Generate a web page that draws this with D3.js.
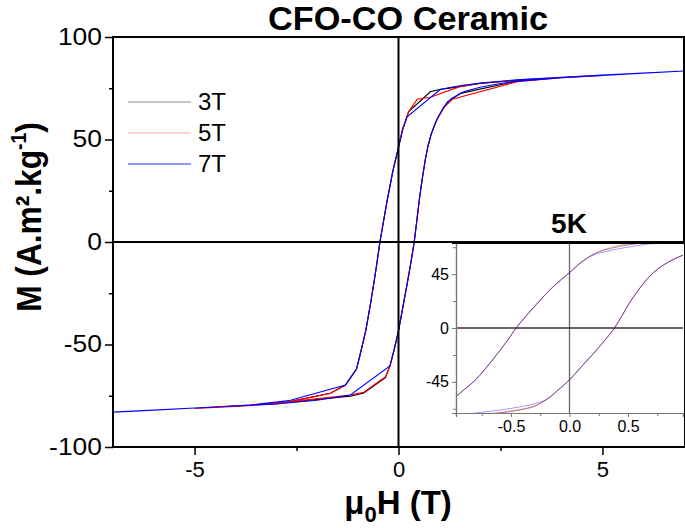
<!DOCTYPE html>
<html><head><meta charset="utf-8">
<script src="https://cdn.jsdelivr.net/npm/d3@7"></script>
<style>body{margin:0;background:#fff}svg{display:block}text{font-family:"Liberation Sans",Arial,sans-serif}</style>
</head><body>
<svg id="c" width="685" height="528"></svg>
<script>
// ---- data ----
const seriesNames = ["3T", "5T", "7T"];
const seriesColors = ["#000000", "#ff0000", "#0000ff"];
const legendColors = ["#8a8a8a", "#ffa8a8", "#2a2aff"];

// 3T loop: descending branch then ascending branch
const h3 = [3, 2.5, 2, 1.5, 0.98, 0.78, 0.25, 0.1, 0, -0.14, -0.285, -0.456, -0.527, -0.6, -0.68, -0.8, -0.9, -0.97, -1.03, -1.3, -1.67, -2.69, -3,
            -3, -2.69, -1.18, -0.85, -0.32, -0.21, -0.1, 0, 0.1, 0.2, 0.3, 0.385, 0.45, 0.51, 0.58, 0.655, 0.72, 0.8, 0.9, 0.97, 1.2, 1.52, 2.66, 3];
const m3 = [79.0, 78.2, 77.3, 75.8, 74.3, 73.3, 63.6, 55.0, 46.3, 34.5, 19.5, 0, -10, -19.5, -29.4, -43, -51.5, -57.2, -62, -69.8, -73.8, -78, -78.8,
            -78.8, -78.2, -75.2, -73.6, -66.2, -60.5, -52, -43.3, -32.5, -21.8, -10.5, 0, 10.5, 20.6, 30.5, 40, 46.5, 52.5, 57.8, 60.8, 68.3, 72.5, 77.4, 79.0];

// 5T loop
const h5 = [5, 4, 3, 2, 1.5, 0.78, 0.46, 0.25, 0.1, 0, -0.14, -0.285, -0.456, -0.527, -0.6, -0.68, -0.8, -0.9, -0.97, -1.03, -1.3, -1.67, -2.69, -3.63, -4.3, -5,
            -5, -4, -3, -2.69, -1.18, -0.85, -0.32, -0.21, -0.1, 0, 0.1, 0.2, 0.3, 0.385, 0.45, 0.51, 0.58, 0.655, 0.72, 0.8, 0.9, 0.97, 1.11, 1.32, 2.91, 4, 5];
const m5 = [81.3, 80.2, 79.1, 77.4, 75.8, 70.6, 69.6, 63.6, 55.0, 46.3, 34.5, 19.5, 0, -10, -19.5, -29.4, -43, -51.5, -57.2, -62, -69.8, -73.8, -78, -79.5, -80.3, -81.2,
            -81.2, -80.2, -79.0, -78.0, -74.6, -73.3, -65.7, -60.5, -52, -43.3, -32.5, -21.8, -10.5, 0, 10.5, 20.6, 30.5, 40, 46.5, 52.5, 57.8, 60.8, 65.5, 69.6, 78.2, 80.2, 81.3];

// 7T loop
const h7 = [7, 6, 5, 4, 3, 2.5, 2, 1.5, 1.03, 0.21, 0.1, 0, -0.14, -0.285, -0.456, -0.527, -0.6, -0.68, -0.8, -0.9, -0.97, -1.03, -1.3, -2.69, -3.63, -5, -6, -7,
            -7, -6, -5, -4, -3, -2, -1.18, -0.21, -0.1, 0, 0.1, 0.2, 0.3, 0.385, 0.45, 0.51, 0.58, 0.655, 0.72, 0.8, 0.9, 0.97, 1.11, 1.3, 1.6, 2, 2.5, 3, 3.48, 4, 5, 6, 7];
const m7 = [83.4, 82.4, 81.4, 80.3, 79.2, 78.4, 77.5, 76.2, 74.5, 61.1, 54.5, 46.0, 34.5, 19.5, 0, -10, -19.5, -29.4, -43, -51.5, -57.2, -62, -69.8, -77.4, -79.5, -81.0, -82.0, -83.0,
            -83.0, -82.0, -81.0, -80.0, -79.0, -77.2, -74.6, -60.5, -52, -43.3, -32.5, -21.8, -10.5, 0, 10.5, 20.6, 30.5, 40, 46.5, 52.5, 57.8, 60.8, 66, 70, 73.3, 75.5, 77.3, 78.6, 79.3, 80.2, 81.3, 82.4, 83.4];

const fields = [h3, h5, h7];
const moments = [m3, m5, m7];

const xMajorTicks = [-5, 0, 5];
const xMinorTicks = [-2.5, 2.5];
const yMajorTicks = [-100, -50, 0, 50, 100];
const yMinorTicks = [-75, -25, 25, 75];
const insetXMajor = [-0.5, 0, 0.5];
const insetXMinor = [-0.75, -0.25, 0.25, 0.75];
const insetYMajor = [-45, 0, 45];
const insetYMinor = [-67.5, -22.5, 22.5, 67.5];

// ---- drawing ----
const svg = d3.select("#c");
const x = d3.scaleLinear([-7, 7], [113, 684]);
const y = d3.scaleLinear([-100, 100], [447, 37]);
const hy = d => String(d);                 // hyphen-minus labels
const hy1 = d => d.toFixed(1);

const loops = seriesNames.map((n, i) => ({name: n, color: seriesColors[i], pts: fields[i].map((h, j) => [h, moments[i][j]])}));

// main curves
const line = d3.line().x(d => x(d[0])).y(d => y(d[1]));
svg.append("g").selectAll("path").data(loops).join("path")
  .attr("d", d => line(d.pts)).attr("fill", "none").attr("stroke", d => d.color).attr("stroke-width", 1.1);

// zero lines
svg.append("line").attr("x1", x(0)).attr("x2", x(0)).attr("y1", y(100)).attr("y2", y(-100)).attr("stroke", "#000").attr("stroke-width", 2);
svg.append("line").attr("x1", x(-7)).attr("x2", x(7)).attr("y1", y(0)).attr("y2", y(0)).attr("stroke", "#000").attr("stroke-width", 2);

// frame
svg.append("rect").attr("x", x(-7)).attr("y", y(100)).attr("width", x(7) - x(-7)).attr("height", y(-100) - y(100))
  .attr("fill", "none").attr("stroke", "#000").attr("stroke-width", 2);

// main axes
const yAx = svg.append("g").attr("transform", `translate(${x(-7)},0)`)
  .call(d3.axisLeft(y).tickValues(yMajorTicks).tickSize(8).tickPadding(3).tickFormat(hy));
svg.append("g").attr("transform", `translate(${x(-7)},0)`)
  .call(d3.axisLeft(y).tickValues(yMinorTicks).tickSize(4).tickFormat(""));
const xAx = svg.append("g").attr("transform", `translate(0,${y(-100)})`)
  .call(d3.axisBottom(x).tickValues(xMajorTicks).tickSize(8).tickPadding(6).tickFormat(hy));
svg.append("g").attr("transform", `translate(0,${y(-100)})`)
  .call(d3.axisBottom(x).tickValues(xMinorTicks).tickSize(4).tickFormat(""));
svg.selectAll(".domain").remove();
svg.selectAll(".tick line").attr("stroke", "#000").attr("stroke-width", 1.5);
yAx.selectAll("text").attr("font-size", 23).attr("fill", "#000")
  .attr("x", -11 / 1.15).attr("transform", "scale(1.15,1)");
xAx.selectAll("text").attr("font-size", 22).attr("fill", "#000");

// title & labels
svg.append("text").attr("x", 408).attr("y", 30).attr("text-anchor", "middle")
  .attr("font-size", 33).attr("font-weight", "bold")
  .attr("textLength", 280).attr("lengthAdjust", "spacingAndGlyphs").text("CFO-CO Ceramic");
const xl = svg.append("text").attr("x", 398).attr("y", 514).attr("text-anchor", "middle")
  .attr("font-size", 33).attr("font-weight", "bold");
xl.append("tspan").text("μ");
xl.append("tspan").attr("font-size", 22).attr("dy", 8).text("0");
xl.append("tspan").attr("dy", -8).text("H (T)");
const yl = svg.append("text").attr("transform", "translate(41,217) rotate(-90) scale(0.88,1)").attr("text-anchor", "middle")
  .attr("font-size", 36).attr("font-weight", "bold");
yl.append("tspan").text("M (A.m².kg");
yl.append("tspan").attr("font-size", 22).attr("dy", -15).text("-1");
yl.append("tspan").attr("dy", 15).text(")");

// legend
const lg = svg.append("g");
seriesNames.forEach((n, i) => {
  const yy = 102 + i * 31;
  lg.append("line").attr("x1", 128).attr("x2", 191).attr("y1", yy).attr("y2", yy).attr("stroke", legendColors[i]).attr("stroke-width", 1.2);
  lg.append("text").attr("x", 198).attr("y", yy + 8).attr("font-size", 24).text(n);
});

// ---- inset ----
const xi = d3.scaleLinear([-0.97, 0.97], [456, 683]);
const yi = d3.scaleLinear([-71, 71], [413, 243]);
svg.append("rect").attr("x", 420).attr("y", 243).attr("width", 264).attr("height", 203).attr("fill", "#fff");
svg.append("clipPath").attr("id", "ic").append("rect").attr("x", xi(-0.97)).attr("y", yi(71)).attr("width", xi(0.97) - xi(-0.97)).attr("height", yi(-71) - yi(71));
const ig = svg.append("g");
ig.append("line").attr("x1", xi(0)).attr("x2", xi(0)).attr("y1", yi(71)).attr("y2", yi(-71)).attr("stroke", "#666").attr("stroke-width", 1.3);
ig.append("line").attr("x1", xi(-0.97)).attr("x2", xi(0.97)).attr("y1", yi(0)).attr("y2", yi(0)).attr("stroke", "#333").attr("stroke-width", 1.3);
const iline = d3.line().x(d => xi(d[0])).y(d => yi(d[1])).curve(d3.curveCatmullRom.alpha(0.5));
ig.append("g").attr("clip-path", "url(#ic)").selectAll("path").data(loops).join("path")
  .attr("d", d => iline(d.pts)).attr("fill", "none").attr("stroke", d => d.color).attr("stroke-width", 0.7).attr("stroke-opacity", 0.55);
// inset axes
const iyAx = ig.append("g").attr("transform", `translate(${xi(-0.97)},0)`)
  .call(d3.axisLeft(yi).tickValues(insetYMajor).tickSize(4).tickPadding(3).tickFormat(hy));
ig.append("g").attr("transform", `translate(${xi(-0.97)},0)`)
  .call(d3.axisLeft(yi).tickValues(insetYMinor).tickSize(3).tickFormat(""));
const ixAx = ig.append("g").attr("transform", `translate(0,${yi(-71)})`)
  .call(d3.axisBottom(xi).tickValues(insetXMajor).tickSize(4).tickPadding(4).tickFormat(hy1));
ig.append("g").attr("transform", `translate(0,${yi(-71)})`)
  .call(d3.axisBottom(xi).tickValues(insetXMinor).tickSize(3).tickFormat(""));
ig.selectAll(".domain").attr("stroke", "#777").attr("stroke-width", 1.2);
ig.selectAll(".tick line").attr("stroke", "#777");
iyAx.selectAll("text").attr("font-size", 16).attr("fill", "#000");
ixAx.selectAll("text").attr("font-size", 16).attr("fill", "#000");
// inset top border
ig.append("line").attr("x1", 452).attr("x2", 684).attr("y1", 243).attr("y2", 243).attr("stroke", "#000").attr("stroke-width", 2);
svg.append("text").attr("x", 569).attr("y", 233).attr("text-anchor", "middle").attr("font-size", 28).attr("font-weight", "bold").text("5K");
</script>
</body></html>
